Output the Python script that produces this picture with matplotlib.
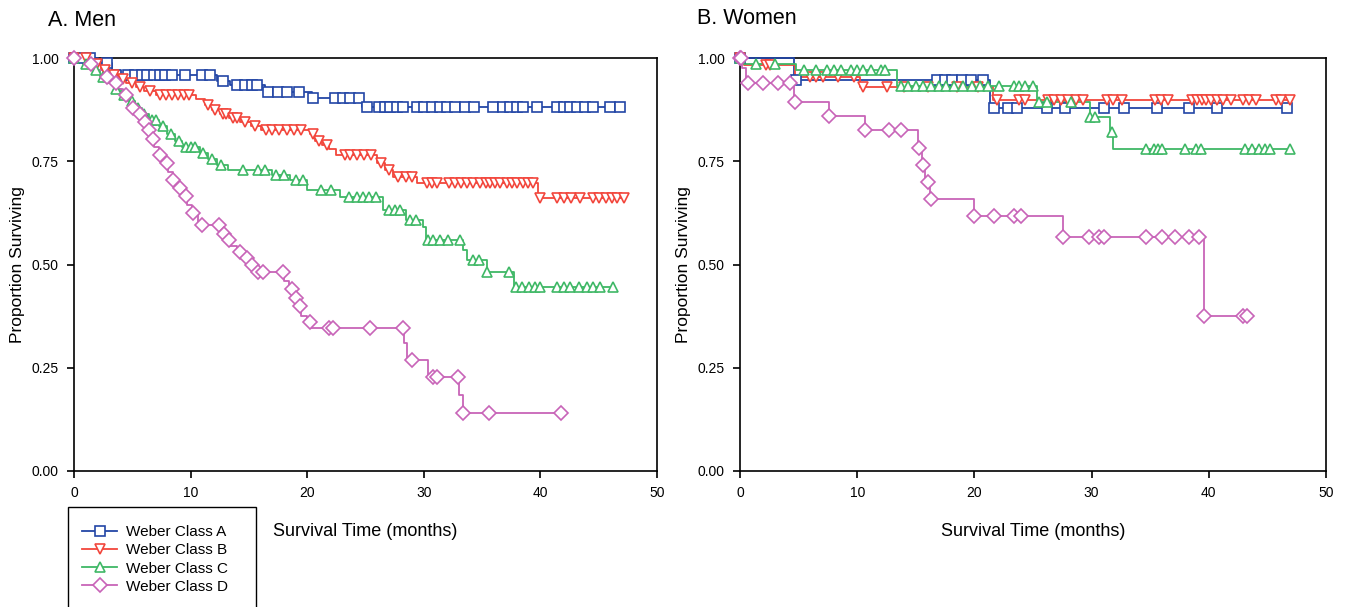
import numpy as np
import matplotlib
matplotlib.use("Agg")
import matplotlib.pyplot as plt
from matplotlib.lines import Line2D
from matplotlib.patches import Rectangle

plt.rcParams['font.family'] = ['Liberation Sans', 'DejaVu Sans']

# ---- Men: event times / survival after the event, censor (marker) times, last follow-up
men_a_t = [0, 2.1, 3.3, 4.0, 12.3, 13.4, 16.4, 20.4, 24.7]
men_a_s = [1.0, 0.989, 0.97, 0.959, 0.945, 0.935, 0.918, 0.903, 0.881]
men_a_c = [0, 0.8, 1.4, 2.8, 4.6, 5.2, 5.8, 6.3, 6.9, 7.4, 7.8, 8.4, 9.5, 11.0, 11.7, 12.8,
           14.0, 14.7, 15.3, 15.7, 16.6, 17.5, 18.3, 19.3, 20.5, 22.4, 23.1, 23.7, 24.4, 25.1,
           26.2, 26.7, 27.1, 27.7, 28.2, 29.4, 30.0, 30.7, 31.4, 32.0, 32.7, 33.5, 34.3, 35.9,
           36.8, 37.4, 38.0, 38.5, 39.7, 41.4, 42.0, 42.5, 43.1, 43.8, 44.5, 46.0, 46.8]
men_a_end = 46.8

men_b_t = [0, 1.5, 2.3, 3.0, 3.8, 4.5, 5.3, 6.0, 7.0, 10.5, 11.2, 11.8, 12.5, 13.3, 14.2,
           15.2, 16.0, 20.2, 20.7, 21.3, 21.9, 22.5, 26.0, 26.7, 27.4, 29.4, 39.8]
men_b_s = [1.0, 0.985, 0.97, 0.96, 0.95, 0.94, 0.93, 0.92, 0.91, 0.90, 0.885, 0.875, 0.865,
           0.855, 0.845, 0.835, 0.826, 0.815, 0.80, 0.79, 0.78, 0.765, 0.745, 0.73, 0.712,
           0.697, 0.661]
men_b_c = [0, 1.0, 2.0, 2.7, 3.4, 4.2, 5.0, 5.7, 6.5, 7.4, 7.9, 8.4, 8.9, 9.4, 9.9, 11.5,
           12.1, 12.8, 13.0, 13.6, 14.0, 14.7, 15.5, 16.5, 17.0, 17.6, 18.3, 18.9, 19.5, 20.5,
           21.0, 21.7, 23.2, 23.7, 24.3, 24.9, 25.5, 26.3, 27.0, 27.8, 28.5, 29.0, 30.3, 30.7,
           31.1, 32.2, 32.7, 33.2, 33.7, 34.2, 34.8, 35.3, 35.7, 36.1, 36.5, 37.1, 37.6, 38.0,
           38.5, 38.9, 39.4, 40.0, 41.4, 42.0, 42.6, 43.4, 44.5, 45.0, 45.6, 46.1, 46.6, 47.2]
men_b_end = 47.2

men_c_t = [0, 0.8, 1.5, 2.2, 2.8, 3.4, 4.0, 4.6, 5.2, 5.8, 6.4, 7.3, 8.0, 8.7, 9.3, 10.8,
           11.5, 12.3, 13.2, 17.0, 18.5, 20.0, 22.8, 26.5, 28.5, 29.9, 30.2, 33.4, 33.7, 35.4,
           37.7]
men_c_s = [1.0, 0.985, 0.97, 0.955, 0.94, 0.925, 0.91, 0.895, 0.88, 0.865, 0.85, 0.835,
           0.815, 0.80, 0.785, 0.77, 0.755, 0.74, 0.729, 0.717, 0.705, 0.68, 0.663, 0.632,
           0.608, 0.59, 0.559, 0.535, 0.511, 0.482, 0.446]
men_c_c = [0, 1.0, 1.9, 2.5, 3.6, 4.3, 5.0, 5.5, 6.0, 6.7, 7.0, 7.6, 8.3, 9.0, 9.6, 10.0,
           10.4, 11.1, 11.8, 12.6, 14.5, 15.8, 16.4, 17.3, 18.0, 19.0, 19.6, 21.2, 22.0, 23.6,
           24.3, 24.8, 25.3, 25.9, 27.0, 27.5, 28.0, 28.8, 29.3, 30.4, 30.8, 31.4, 32.1, 33.1,
           34.2, 34.7, 35.4, 37.3, 37.9, 38.4, 39.0, 39.5, 40.0, 41.4, 42.0, 42.5, 43.3, 44.0,
           44.5, 45.1, 46.2]
men_c_end = 46.3

men_d_t = [0, 1.2, 1.8, 2.5, 3.2, 3.7, 4.2, 4.6, 5.1, 5.5, 5.9, 6.2, 6.5, 6.9, 7.3, 7.7,
           8.1, 8.5, 8.9, 9.3, 9.7, 10.1, 10.6, 12.7, 13.0, 13.4, 14.0, 14.6, 15.0, 15.4,
           18.0, 18.4, 18.8, 19.1, 19.5, 20.0, 20.3, 28.3, 28.6, 30.4, 33.0, 33.4]
men_d_s = [1.0, 0.985, 0.97, 0.955, 0.94, 0.925, 0.91, 0.895, 0.88, 0.865, 0.845, 0.825,
           0.805, 0.785, 0.765, 0.745, 0.725, 0.705, 0.685, 0.665, 0.645, 0.625, 0.596,
           0.575, 0.56, 0.545, 0.53, 0.515, 0.50, 0.483, 0.46, 0.44, 0.42, 0.40, 0.375, 0.36,
           0.346, 0.31, 0.269, 0.228, 0.184, 0.14]
men_d_c = [0, 1.5, 2.8, 3.6, 4.5, 5.1, 5.7, 6.1, 6.4, 6.8, 7.4, 8.0, 8.5, 9.1, 9.6, 10.2,
           11.0, 12.4, 12.9, 13.3, 14.2, 14.8, 15.3, 15.8, 16.2, 17.9, 18.7, 19.0, 19.4, 20.2,
           21.9, 22.2, 25.4, 28.2, 29.0, 30.8, 31.1, 32.9, 33.4, 35.6, 41.8]
men_d_end = 41.8

# ---- Women
wom_a_t = [0, 4.6, 21.3]
wom_a_s = [1.0, 0.947, 0.879]
wom_a_c = [0, 4.8, 16.8, 17.5, 18.1, 18.9, 19.7, 20.7, 21.7, 22.9, 23.6, 26.2, 27.7, 31.1,
           32.8, 35.6, 38.3, 40.7, 46.7]
wom_a_end = 46.7

wom_b_t = [0, 0.3, 4.7, 10.2, 21.6]
wom_b_s = [1.0, 0.983, 0.955, 0.93, 0.898]
wom_b_c = [0, 2.2, 2.6, 6.0, 6.5, 7.1, 8.4, 9.7, 10.5, 12.5, 14.0, 16.0, 18.5, 20.3, 21.9,
           23.8, 24.3, 26.3, 26.8, 27.4, 28.0, 28.7, 29.3, 31.3, 31.8, 32.6, 35.4, 35.9, 36.5,
           38.6, 39.0, 39.4, 39.8, 40.2, 40.7, 41.2, 41.9, 42.9, 43.4, 44.0, 45.7, 46.2, 46.9]
wom_b_end = 46.9

wom_c_t = [0, 0.3, 4.8, 13.4, 25.3, 29.9, 31.6, 31.8]
wom_c_s = [1.0, 0.985, 0.971, 0.933, 0.893, 0.857, 0.82, 0.78]
wom_c_c = [0, 1.4, 3.0, 5.5, 6.5, 7.4, 8.0, 8.6, 9.5, 10.0, 10.5, 11.2, 12.0, 12.4, 13.7,
           14.3, 15.0, 15.6, 16.3, 17.0, 17.6, 18.3, 19.0, 19.8, 20.5, 21.2, 22.1, 23.4, 23.8,
           24.3, 25.0, 25.5, 26.2, 28.2, 29.9, 30.3, 31.7, 34.6, 35.3, 35.7, 36.0, 38.0, 38.9,
           39.3, 43.1, 43.7, 44.3, 44.8, 45.2, 46.9]
wom_c_end = 46.9

wom_d_t = [0, 0.2, 0.5, 4.6, 7.6, 10.7, 15.2, 15.5, 15.8, 16.2, 20.0, 27.6, 39.6]
wom_d_s = [1.0, 0.975, 0.94, 0.893, 0.86, 0.825, 0.782, 0.74, 0.70, 0.658, 0.617, 0.566, 0.375]
wom_d_c = [0, 0.1, 0.7, 2.0, 3.2, 4.3, 4.7, 7.6, 10.7, 12.7, 13.7, 15.3, 15.6, 16.0, 16.3,
           20.0, 21.7, 23.4, 24.0, 27.6, 29.8, 30.6, 31.1, 34.6, 36.0, 37.1, 38.3, 39.2, 39.6,
           42.9, 43.3]
wom_d_end = 43.3

labels = ['Weber Class A', 'Weber Class B', 'Weber Class C', 'Weber Class D']
colors = ['#2346a6', '#f2463c', '#3fb866', '#c864b8']
markers = ['s', 'v', '^', 'D']
msizes = [6.5, 7, 7, 7.5]


def km(ax, t, s, cens, end, color, marker, ms):
    t = np.asarray(t, float)
    s = np.asarray(s, float)
    tt = np.append(t, end)
    ss = np.append(s, s[-1])
    ax.step(tt, ss, where='post', color=color, lw=1.3, clip_on=False, zorder=3)
    c = np.asarray(cens, float)
    idx = np.searchsorted(t, c, side='right') - 1
    ax.plot(c, s[idx], ls='none', marker=marker, ms=ms, mfc='white', mec=color,
            mew=1.2, clip_on=False, zorder=4)


def style(ax):
    ax.set_xlim(0, 50)
    ax.set_ylim(0, 1.0)
    ax.set_xticks([0, 10, 20, 30, 40, 50])
    ax.set_yticks([0, 0.25, 0.5, 0.75, 1.0])
    ax.set_yticklabels(['0.00', '0.25', '0.50', '0.75', '1.00'])
    ax.tick_params(direction='out', length=5, width=1.2, labelsize=10, pad=6)
    for sp in ax.spines.values():
        sp.set_linewidth(1.2)
    ax.set_xlabel('Survival Time (months)', fontsize=13, labelpad=16)
    ax.set_ylabel('Proportion Surviving', fontsize=12.5, labelpad=5)


fig = plt.figure(figsize=(13.5, 6.07), dpi=100)
ax1 = fig.add_axes([74 / 1350, 1 - 471 / 607, 583 / 1350, 413 / 607])
ax2 = fig.add_axes([740 / 1350, 1 - 471 / 607, 586 / 1350, 413 / 607])

men = [(men_a_t, men_a_s, men_a_c, men_a_end), (men_b_t, men_b_s, men_b_c, men_b_end),
       (men_c_t, men_c_s, men_c_c, men_c_end), (men_d_t, men_d_s, men_d_c, men_d_end)]
women = [(wom_a_t, wom_a_s, wom_a_c, wom_a_end), (wom_b_t, wom_b_s, wom_b_c, wom_b_end),
         (wom_c_t, wom_c_s, wom_c_c, wom_c_end), (wom_d_t, wom_d_s, wom_d_c, wom_d_end)]

for i, (t, s, c, e) in enumerate(men):
    km(ax1, t, s, c, e, colors[i], markers[i], msizes[i])
for i, (t, s, c, e) in enumerate(women):
    km(ax2, t, s, c, e, colors[i], markers[i], msizes[i])

style(ax1)
style(ax2)

fig.text(48 / 1350, 1 - 21 / 607, 'A. Men', fontsize=15.5, va='center', ha='left')
fig.text(697 / 1350, 1 - 19 / 607, 'B. Women', fontsize=15.5, va='center', ha='left')

# legend box runs off the bottom of the figure like the original
fig.patches.append(Rectangle((68 / 1350, -0.05), 188 / 1350, 0.05 + 1 - 507 / 607,
                             transform=fig.transFigure, fill=False, ec='black', lw=1.0))
handles = [Line2D([], [], color=colors[i], lw=1.3, marker=markers[i], ms=msizes[i],
                  mfc='white', mec=colors[i], mew=1.2) for i in range(4)]
fig.legend(handles, labels, loc='upper left', bbox_to_anchor=(82 / 1350, 1 - 525 / 607),
           frameon=False, fontsize=11, handlelength=2.3, labelspacing=0.28,
           handletextpad=0.6, borderaxespad=0, borderpad=0)

fig.savefig('out.png', dpi=100, facecolor='white')
